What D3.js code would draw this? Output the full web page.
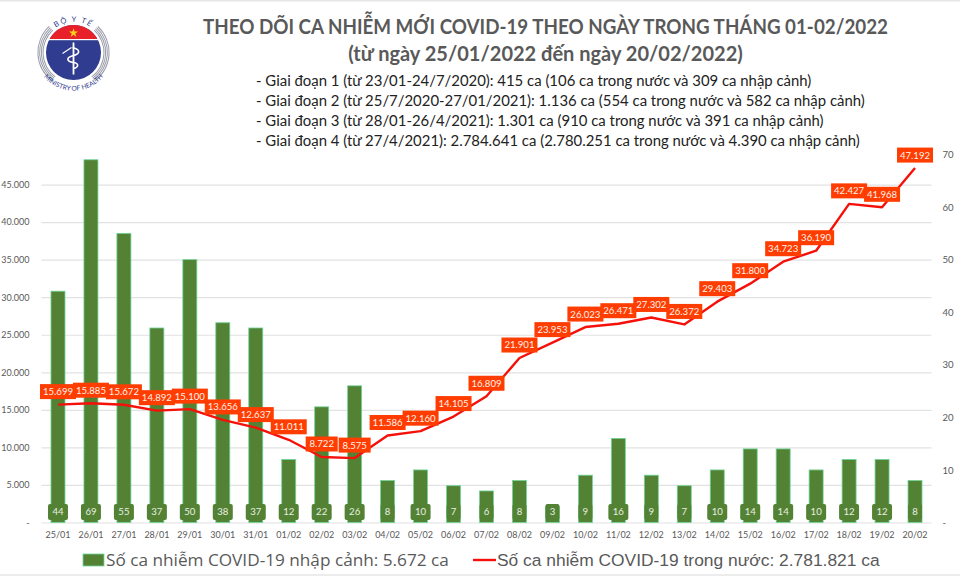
<!DOCTYPE html>
<html>
<head>
<meta charset="utf-8">
<script src="https://cdn.jsdelivr.net/npm/d3@7"></script>
<style>
  html, body { margin: 0; padding: 0; background: #fff; }
  svg { display: block; }
  text { font-family: Lato, "Open Sans", sans-serif; }
</style>
</head>
<body>
<svg id="chart" width="960" height="576"></svg>
<script>
const days = ['25/01','26/01','27/01','28/01','29/01','30/01','31/01','01/02','02/02','03/02','04/02','05/02','06/02','07/02','08/02','09/02','10/02','11/02','12/02','13/02','14/02','15/02','16/02','17/02','18/02','19/02','20/02'];
const importedCases = [44,69,55,37,50,38,37,12,22,26,8,10,7,6,8,3,9,16,9,7,10,14,14,10,12,12,8];
const domesticCases = [15699,15885,15672,14892,15100,13656,12637,11011,8722,8575,11586,12160,14105,16809,21901,23953,26023,26471,27302,26372,29403,31800,34723,36190,42427,41968,47192];
const leftTicks = [0,5000,10000,15000,20000,25000,30000,35000,40000,45000];
const rightTicks = [0,10,20,30,40,50,60,70];
const titleLines = ['THEO DÕI CA NHIỄM MỚI COVID-19 THEO NGÀY TRONG THÁNG 01-02/2022', '(từ ngày 25/01/2022 đến ngày 20/02/2022)'];
const phaseLines = [
  '- Giai đoạn 1 (từ 23/01-24/7/2020): 415 ca (106 ca trong nước và 309 ca nhập cảnh)',
  '- Giai đoạn 2 (từ 25/7/2020-27/01/2021): 1.136 ca (554 ca trong nước và 582 ca nhập cảnh)',
  '- Giai đoạn 3 (từ 28/01-26/4/2021): 1.301 ca (910 ca trong nước và 391 ca nhập cảnh)',
  '- Giai đoạn 4 (từ 27/4/2021): 2.784.641 ca (2.780.251 ca trong nước và 4.390 ca nhập cảnh)'
];
const legendImported = 'Số ca nhiễm COVID-19 nhập cảnh: 5.672 ca';
const legendDomestic = 'Số ca nhiễm COVID-19 trong nước: 2.781.821 ca';

const GREY = '#595959';
const BAR_GREEN = '#548235';
const BAR_EDGE = '#6fd69a';
const LABEL_RED = '#ff3d00';
const LINE_RED = '#f5100a';

const svg = d3.select('#chart');
const dotted = v => v === 0 ? '-' : d3.format(',')(v).replace(/,/g, '.');

// top + bottom hairlines from the screenshot
svg.append('rect').attr('width', 960).attr('height', 1.5).attr('fill', '#e6e6e6');
svg.append('rect').attr('y', 574).attr('width', 960).attr('height', 2).attr('fill', '#ececec');

// scales: both axes share the same plot height, 70 on the right lines up with 49.000 on the left
const x = d3.scaleBand().domain(days).range([41.5, 931.5]).paddingInner(0.575).paddingOuter(0.2875);
const yLeft = d3.scaleLinear().domain([0, 49000]).range([522.5, 154.5]);
const yRight = d3.scaleLinear().domain([0, 70]).range([522.5, 154.5]);
const cx = d => x(d) + x.bandwidth() / 2;

// gridlines + left axis
const leftAxis = svg.append('g').attr('transform', 'translate(41.5,0)')
  .call(d3.axisLeft(yLeft).tickValues(leftTicks).tickFormat(dotted).tickSize(-890).tickPadding(12));
leftAxis.select('.domain').remove();
leftAxis.selectAll('line').attr('stroke', '#e2e2e2').attr('stroke-width', 1.2);
leftAxis.selectAll('text').attr('fill', GREY).attr('font-size', 9).style('font-family', 'Lato');

const rightAxis = svg.append('g').attr('transform', 'translate(931.5,0)')
  .call(d3.axisRight(yRight).tickValues(rightTicks).tickFormat(dotted).tickSize(0).tickPadding(11));
rightAxis.select('.domain').remove();
rightAxis.selectAll('text').attr('fill', GREY).attr('font-size', 9.6).style('font-family', 'Lato');

const bottomAxis = svg.append('g').attr('transform', 'translate(0,522.5)')
  .call(d3.axisBottom(x).tickSize(0).tickPadding(9));
bottomAxis.select('.domain').remove();
bottomAxis.selectAll('text').attr('fill', GREY).attr('font-size', 9).style('font-family', 'Lato');

// bars
svg.append('g').selectAll('rect').data(importedCases).join('rect')
  .attr('x', (d, i) => x(days[i]))
  .attr('y', d => yRight(d))
  .attr('width', x.bandwidth())
  .attr('height', d => yRight(0) - yRight(d))
  .attr('fill', BAR_GREEN)
  .attr('stroke', BAR_EDGE)
  .attr('stroke-width', 0.8);

// little green tags sitting at the foot of each bar
const barTags = svg.append('g').selectAll('g').data(importedCases).join('g')
  .attr('transform', (d, i) => `translate(${cx(days[i])},512)`);
barTags.append('rect')
  .attr('x', d => d >= 10 ? -10 : -7)
  .attr('y', -8)
  .attr('width', d => d >= 10 ? 20 : 14)
  .attr('height', 16)
  .attr('rx', 2)
  .attr('fill', BAR_GREEN);
barTags.append('text')
  .attr('text-anchor', 'middle')
  .attr('dy', '0.36em')
  .attr('font-size', 9.6)
  .attr('fill', '#e8efe2')
  .text(d => d);

// domestic line
const line = d3.line()
  .x((d, i) => cx(days[i]))
  .y(d => yLeft(d));
svg.append('path').datum(domesticCases)
  .attr('d', line)
  .attr('fill', 'none')
  .attr('stroke', LINE_RED)
  .attr('stroke-linejoin', 'round')
  .attr('stroke-width', 2.4);

// red value labels, all 13px above their point
const lineTags = svg.append('g').selectAll('g').data(domesticCases).join('g')
  .attr('transform', (d, i) => `translate(${cx(days[i])},${yLeft(d) - 13})`);
lineTags.append('rect')
  .attr('x', d => d >= 10000 ? -18 : -16)
  .attr('y', -7.5)
  .attr('width', d => d >= 10000 ? 36 : 32)
  .attr('height', 15)
  .attr('fill', LABEL_RED);
lineTags.append('text')
  .attr('text-anchor', 'middle')
  .attr('dy', '0.36em')
  .attr('font-size', 9.6)
  .attr('fill', '#fff2ec')
  .text(dotted);

// headings, first line squeezed to the reference width since Lato caps run wide
svg.append('g').selectAll('text').data(titleLines).join('text')
  .attr('x', 545.5)
  .attr('y', (d, i) => 34 + i * 26.5)
  .attr('text-anchor', 'middle')
  .attr('font-size', 20)
  .attr('font-weight', 700)
  .attr('fill', GREY)
  .attr('textLength', (d, i) => i === 0 ? 685 : null)
  .attr('lengthAdjust', 'spacingAndGlyphs')
  .text(d => d);

svg.append('g').selectAll('text').data(phaseLines).join('text')
  .attr('x', 256)
  .attr('y', (d, i) => 85.5 + i * 20)
  .attr('font-size', 14.9)
  .attr('fill', '#222')
  .text(d => d);

// legend
svg.append('rect').attr('x', 83).attr('y', 554).attr('width', 21).attr('height', 12)
  .attr('fill', BAR_GREEN).attr('stroke', BAR_EDGE).attr('stroke-width', 0.8);
svg.append('text').attr('x', 106).attr('y', 566).attr('font-size', 17.2)
  .attr('fill', GREY).style('font-family', '"Open Sans"').text(legendImported);
svg.append('line').attr('x1', 473).attr('x2', 496).attr('y1', 560).attr('y2', 560)
  .attr('stroke', LINE_RED).attr('stroke-width', 2.4);
svg.append('text').attr('x', 497).attr('y', 566).attr('font-size', 17.4)
  .attr('fill', GREY).style('font-family', '"Liberation Sans"').text(legendDomestic);

// ministry logo
const logo = svg.append('g').attr('transform', 'translate(73.5,52.5)');
[30.5, 32.2, 33.9, 35.6].forEach(r => {
  [[-2.5, -0.75], [0.75, 2.5]].forEach(([a0, a1]) => {
    logo.append('path')
      .attr('d', d3.arc().innerRadius(r - 0.5).outerRadius(r + 0.5).startAngle(a0).endAngle(a1)())
      .attr('fill', '#9a9caa');
  });
});
logo.append('circle').attr('r', 27.5).attr('fill', '#2f3c8f');
const capClip = svg.append('clipPath').attr('id', 'cap');
capClip.append('rect').attr('x', -40).attr('y', -40).attr('width', 80).attr('height', 27);
logo.append('circle').attr('r', 27.5).attr('fill', '#e8202a').attr('clip-path', 'url(#cap)');
logo.append('rect').attr('x', -25).attr('y', -13.5).attr('width', 50).attr('height', 1.2).attr('fill', '#fff');
logo.append('path').attr('d', d3.symbol(d3.symbolStar, 26)()).attr('transform', 'translate(0,-19.5)').attr('fill', '#f7d21b');
logo.append('line').attr('y1', -10).attr('y2', 22).attr('stroke', '#fff').attr('stroke-width', 1.8);
logo.append('path')
  .attr('d', 'M-1,-5 C7,-3 7,1 0,3 C-8,5 -7,9 0,10 C6,11 5,15 0,16')
  .attr('fill', 'none').attr('stroke', '#fff').attr('stroke-width', 1.6);
logo.append('path').attr('d', 'M-11,1 L-2,-5').attr('stroke', '#fff').attr('stroke-width', 1.1);

logo.append('path').attr('id', 'arcTop').attr('d', 'M-24,-19 A30.6,30.6 0 0 1 24,-19').attr('fill', 'none');
logo.append('text').attr('font-size', 7.5).attr('fill', '#2f3c8f').attr('letter-spacing', 1.5)
  .append('textPath').attr('href', '#arcTop').attr('startOffset', '50%').attr('text-anchor', 'middle').text('BỘ Y TẾ');
logo.append('path').attr('id', 'arcBottom').attr('d', 'M-33,19 A38,38 0 0 0 33,19').attr('fill', 'none');
logo.append('text').attr('font-size', 6.6).attr('fill', '#2f3c8f')
  .append('textPath').attr('href', '#arcBottom').attr('startOffset', '50%').attr('text-anchor', 'middle').text('MINISTRY OF HEALTH');
</script>
</body>
</html>
